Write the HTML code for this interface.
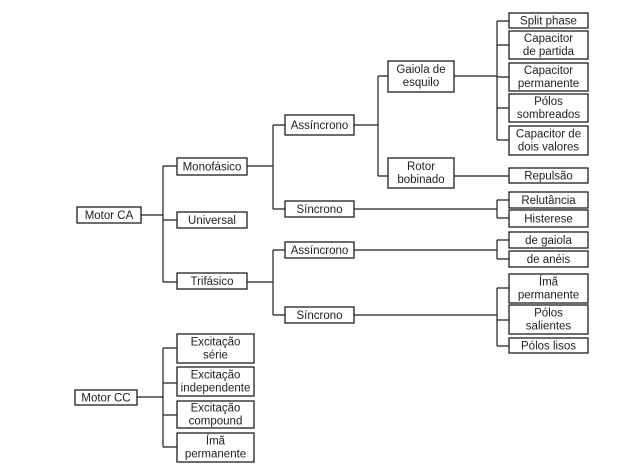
<!DOCTYPE html>
<html><head><meta charset="utf-8"><style>
html,body{margin:0;padding:0;background:#fff;}
svg{display:block;}
text{font-family:"Liberation Sans",sans-serif;font-size:11.5px;fill:#1e1e1e;text-anchor:middle;}
.b{fill:#fff;stroke:#1e1e1e;stroke-width:1.3;}
.l{stroke:#1e1e1e;stroke-width:1.2;fill:none;}
</style></head><body>
<svg width="638" height="473" viewBox="0 0 638 473" xmlns="http://www.w3.org/2000/svg">
<!-- connectors -->
<path class="l" d="M141 215H163 M163 166V282 M163 166H177 M163 220H177 M163 282H177"/>
<path class="l" d="M247 166H273 M273 125V209 M273 125H285 M273 209H285"/>
<path class="l" d="M247 282H273 M273 250V315 M273 250H285 M273 315H285"/>
<path class="l" d="M354 125H378 M378 76V176 M378 76H388 M378 176H388"/>
<path class="l" d="M454 76H497 M497 21V140 M497 21H509 M497 45H509 M497 77H509 M497 108H509 M497 140H509"/>
<path class="l" d="M454 176H509"/>
<path class="l" d="M354 209H497 M497 200V218 M497 200H509 M497 218H509"/>
<path class="l" d="M354 250H497 M497 240V259 M497 240H509 M497 259H509"/>
<path class="l" d="M354 315H497 M497 288V346 M497 288H509 M497 320H509 M497 346H509"/>
<path class="l" d="M137 397H163 M163 348V447 M163 348H177 M163 383H177 M163 415H177 M163 447H177"/>

<!-- Motor CA -->
<rect class="b" x="77" y="207" width="64" height="16"/><text x="109" y="219">Motor CA</text>
<rect class="b" x="177" y="158" width="70" height="17"/><text x="212" y="170.5">Monofásico</text>
<rect class="b" x="177" y="212" width="70" height="16"/><text x="212" y="224">Universal</text>
<rect class="b" x="177" y="273" width="70" height="16"/><text x="212" y="285">Trifásico</text>

<rect class="b" x="285" y="115" width="69" height="20"/><text x="319.5" y="129">Assíncrono</text>
<rect class="b" x="285" y="201" width="69" height="16"/><text x="319.5" y="213">Síncrono</text>
<rect class="b" x="285" y="242" width="69" height="16"/><text x="319.5" y="254">Assíncrono</text>
<rect class="b" x="285" y="307" width="69" height="16"/><text x="319.5" y="319">Síncrono</text>

<rect class="b" x="388" y="61" width="66" height="31"/><text x="421" y="73">Gaiola de</text><text x="421" y="86">esquilo</text>
<rect class="b" x="388" y="158" width="66" height="30"/><text x="421" y="170">Rotor</text><text x="421" y="183">bobinado</text>

<rect class="b" x="509" y="13" width="79" height="15"/><text x="548.5" y="24.5">Split phase</text>
<rect class="b" x="509" y="31" width="79" height="28"/><text x="548.5" y="42">Capacitor</text><text x="548.5" y="55">de partida</text>
<rect class="b" x="509" y="63" width="79" height="28"/><text x="548.5" y="74">Capacitor</text><text x="548.5" y="87">permanente</text>
<rect class="b" x="509" y="94" width="79" height="28"/><text x="548.5" y="105">Pólos</text><text x="548.5" y="118">sombreados</text>
<rect class="b" x="509" y="126" width="79" height="29"/><text x="548.5" y="137.5">Capacitor de</text><text x="548.5" y="150.5">dois valores</text>
<rect class="b" x="509" y="168" width="79" height="15"/><text x="548.5" y="179.5">Repulsão</text>
<rect class="b" x="509" y="192" width="79" height="16"/><text x="548.5" y="204">Relutância</text>
<rect class="b" x="509" y="210" width="79" height="17"/><text x="548.5" y="222.5">Histerese</text>
<rect class="b" x="509" y="232" width="79" height="16"/><text x="548.5" y="244">de gaiola</text>
<rect class="b" x="509" y="251" width="79" height="16"/><text x="548.5" y="263">de anéis</text>
<rect class="b" x="509" y="274" width="79" height="29"/><text x="548.5" y="285.5">Ímã</text><text x="548.5" y="298.5">permanente</text>
<rect class="b" x="509" y="305" width="79" height="29"/><text x="548.5" y="316.5">Pólos</text><text x="548.5" y="329.5">salientes</text>
<rect class="b" x="509" y="338" width="79" height="15"/><text x="548.5" y="349.5">Pólos lisos</text>

<!-- Motor CC -->
<rect class="b" x="75" y="390" width="62" height="15"/><text x="106" y="401.5">Motor CC</text>
<rect class="b" x="177" y="334" width="77" height="29"/><text x="215.5" y="345.5">Excitação</text><text x="215.5" y="358.5">série</text>
<rect class="b" x="177" y="367" width="77" height="29"/><text x="215.5" y="378.5">Excitação</text><text x="215.5" y="391.5">independente</text>
<rect class="b" x="177" y="401" width="77" height="27"/><text x="215.5" y="411.5">Excitação</text><text x="215.5" y="424.5">compound</text>
<rect class="b" x="177" y="433" width="77" height="29"/><text x="215.5" y="444.5">Ímã</text><text x="215.5" y="457.5">permanente</text>
</svg>
</body></html>
